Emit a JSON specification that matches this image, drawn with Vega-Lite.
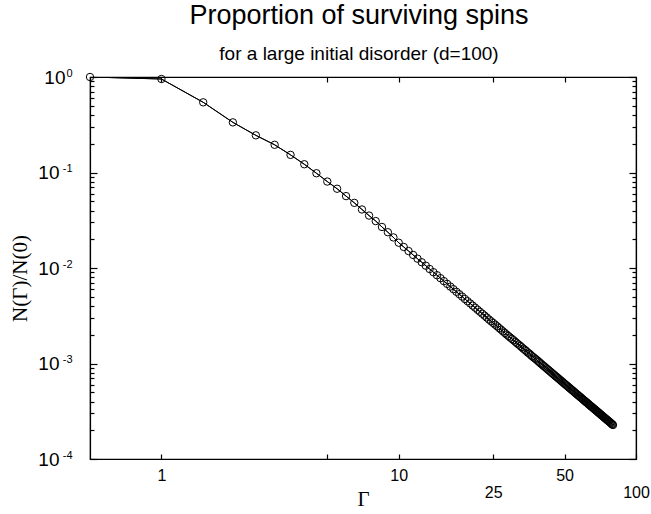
{
  "$schema": "https://vega.github.io/schema/vega-lite/v6.json",
  "width": 546,
  "height": 382,
  "autosize": {"type": "none"},
  "padding": {"left": 90, "top": 77, "right": 15, "bottom": 55},
  "background": "white",
  "title": {
    "text": "Proportion of surviving spins",
    "subtitle": "for a large initial disorder (d=100)",
    "font": "Liberation Sans",
    "fontSize": 27,
    "fontWeight": "normal",
    "color": "black",
    "subtitleFont": "Liberation Sans",
    "subtitleFontSize": 19,
    "subtitleColor": "black",
    "subtitlePadding": 15,
    "anchor": "middle",
    "offset": 2,
    "dx": -4
  },
  "config": {
    "view": {"stroke": "black", "strokeWidth": 1.2},
    "axis": {
      "grid": false,
      "domainColor": "black",
      "domainWidth": 1.2,
      "tickColor": "black",
      "tickWidth": 1.2,
      "labelColor": "black",
      "labelFont": "Liberation Sans",
      "titleColor": "black",
      "labelOverlap": false,
      "labelFlush": false,
      "labelBound": false
    }
  },
  "data": {
    "values": [
      {"G": 0.5, "N": 1},
      {"G": 1, "N": 0.953},
      {"G": 1.5, "N": 0.543},
      {"G": 2, "N": 0.335},
      {"G": 2.5, "N": 0.245},
      {"G": 3, "N": 0.195},
      {"G": 3.5, "N": 0.153},
      {"G": 4, "N": 0.122},
      {"G": 4.5, "N": 0.0982},
      {"G": 5, "N": 0.0804},
      {"G": 5.5, "N": 0.0676},
      {"G": 6, "N": 0.0566},
      {"G": 6.5, "N": 0.0481},
      {"G": 7, "N": 0.041},
      {"G": 7.5, "N": 0.0354},
      {"G": 8, "N": 0.031},
      {"G": 8.5, "N": 0.0269},
      {"G": 9, "N": 0.0237},
      {"G": 9.5, "N": 0.0209},
      {"G": 10, "N": 0.0184},
      {"G": 10.5, "N": 0.0166},
      {"G": 11, "N": 0.01505},
      {"G": 11.5, "N": 0.0137},
      {"G": 12, "N": 0.01252},
      {"G": 12.5, "N": 0.01149},
      {"G": 13, "N": 0.01057},
      {"G": 13.5, "N": 0.00976},
      {"G": 14, "N": 0.00904},
      {"G": 14.5, "N": 0.0084},
      {"G": 15, "N": 0.00782},
      {"G": 15.5, "N": 0.00729},
      {"G": 16, "N": 0.00682},
      {"G": 16.5, "N": 0.00639},
      {"G": 17, "N": 0.006},
      {"G": 17.5, "N": 0.00564},
      {"G": 18, "N": 0.00532},
      {"G": 18.5, "N": 0.00502},
      {"G": 19, "N": 0.00474},
      {"G": 19.5, "N": 0.00449},
      {"G": 20, "N": 0.00426},
      {"G": 20.5, "N": 0.00404},
      {"G": 21, "N": 0.00384},
      {"G": 21.5, "N": 0.00365},
      {"G": 22, "N": 0.00348},
      {"G": 22.5, "N": 0.00332},
      {"G": 23, "N": 0.00317},
      {"G": 23.5, "N": 0.00303},
      {"G": 24, "N": 0.00289},
      {"G": 24.5, "N": 0.00277},
      {"G": 25, "N": 0.00266},
      {"G": 25.5, "N": 0.00255},
      {"G": 26, "N": 0.00245},
      {"G": 26.5, "N": 0.00235},
      {"G": 27, "N": 0.00226},
      {"G": 27.5, "N": 0.00217},
      {"G": 28, "N": 0.00209},
      {"G": 28.5, "N": 0.00201},
      {"G": 29, "N": 0.00194},
      {"G": 29.5, "N": 0.00187},
      {"G": 30, "N": 0.00181},
      {"G": 30.5, "N": 0.00175},
      {"G": 31, "N": 0.00169},
      {"G": 31.5, "N": 0.00163},
      {"G": 32, "N": 0.00158},
      {"G": 32.5, "N": 0.00153},
      {"G": 33, "N": 0.00148},
      {"G": 33.5, "N": 0.00143},
      {"G": 34, "N": 0.00139},
      {"G": 34.5, "N": 0.00135},
      {"G": 35, "N": 0.0013},
      {"G": 35.5, "N": 0.00127},
      {"G": 36, "N": 0.00123},
      {"G": 36.5, "N": 0.00119},
      {"G": 37, "N": 0.00116},
      {"G": 37.5, "N": 0.00113},
      {"G": 38, "N": 0.0011},
      {"G": 38.5, "N": 0.00107},
      {"G": 39, "N": 0.00104},
      {"G": 39.5, "N": 0.00101},
      {"G": 40, "N": 0.000984},
      {"G": 40.5, "N": 0.000958},
      {"G": 41, "N": 0.000934},
      {"G": 41.5, "N": 0.00091},
      {"G": 42, "N": 0.000887},
      {"G": 42.5, "N": 0.000866},
      {"G": 43, "N": 0.000844},
      {"G": 43.5, "N": 0.000824},
      {"G": 44, "N": 0.000804},
      {"G": 44.5, "N": 0.000785},
      {"G": 45, "N": 0.000767},
      {"G": 45.5, "N": 0.000749},
      {"G": 46, "N": 0.000732},
      {"G": 46.5, "N": 0.000716},
      {"G": 47, "N": 0.0007},
      {"G": 47.5, "N": 0.000684},
      {"G": 48, "N": 0.000669},
      {"G": 48.5, "N": 0.000655},
      {"G": 49, "N": 0.000641},
      {"G": 49.5, "N": 0.000627},
      {"G": 50, "N": 0.000614},
      {"G": 50.5, "N": 0.000601},
      {"G": 51, "N": 0.000589},
      {"G": 51.5, "N": 0.000577},
      {"G": 52, "N": 0.000565},
      {"G": 52.5, "N": 0.000554},
      {"G": 53, "N": 0.000543},
      {"G": 53.5, "N": 0.000532},
      {"G": 54, "N": 0.000522},
      {"G": 54.5, "N": 0.000512},
      {"G": 55, "N": 0.000502},
      {"G": 55.5, "N": 0.000492},
      {"G": 56, "N": 0.000483},
      {"G": 56.5, "N": 0.000474},
      {"G": 57, "N": 0.000465},
      {"G": 57.5, "N": 0.000457},
      {"G": 58, "N": 0.000449},
      {"G": 58.5, "N": 0.000441},
      {"G": 59, "N": 0.000433},
      {"G": 59.5, "N": 0.000425},
      {"G": 60, "N": 0.000418},
      {"G": 60.5, "N": 0.00041},
      {"G": 61, "N": 0.000403},
      {"G": 61.5, "N": 0.000396},
      {"G": 62, "N": 0.00039},
      {"G": 62.5, "N": 0.000383},
      {"G": 63, "N": 0.000377},
      {"G": 63.5, "N": 0.00037},
      {"G": 64, "N": 0.000364},
      {"G": 64.5, "N": 0.000358},
      {"G": 65, "N": 0.000353},
      {"G": 65.5, "N": 0.000347},
      {"G": 66, "N": 0.000342},
      {"G": 66.5, "N": 0.000336},
      {"G": 67, "N": 0.000331},
      {"G": 67.5, "N": 0.000326},
      {"G": 68, "N": 0.000321},
      {"G": 68.5, "N": 0.000316},
      {"G": 69, "N": 0.000311},
      {"G": 69.5, "N": 0.000306},
      {"G": 70, "N": 0.000302},
      {"G": 70.5, "N": 0.000297},
      {"G": 71, "N": 0.000293},
      {"G": 71.5, "N": 0.000288},
      {"G": 72, "N": 0.000284},
      {"G": 72.5, "N": 0.00028},
      {"G": 73, "N": 0.000276},
      {"G": 73.5, "N": 0.000272},
      {"G": 74, "N": 0.000268},
      {"G": 74.5, "N": 0.000264},
      {"G": 75, "N": 0.000261},
      {"G": 75.5, "N": 0.000257},
      {"G": 76, "N": 0.000253},
      {"G": 76.5, "N": 0.00025},
      {"G": 77, "N": 0.000247},
      {"G": 77.5, "N": 0.000243},
      {"G": 78, "N": 0.00024},
      {"G": 78.5, "N": 0.000237},
      {"G": 79, "N": 0.000233},
      {"G": 79.5, "N": 0.00023},
      {"G": 80, "N": 0.000227}
    ]
  },
  "layer": [
    {
      "mark": {"type": "line", "color": "black", "strokeWidth": 1, "clip": true},
      "encoding": {
        "x": {
          "field": "G",
          "type": "quantitative",
          "scale": {"type": "log", "domain": [0.5, 100], "nice": false},
          "axis": {
            "orient": "bottom",
            "values": [1, 5, 10, 25, 50, 100],
            "tickSize": -5,
            "labelPadding": 13,
            "labelFontSize": 16,
            "labelBaseline": "top",
            "labelLineHeight": 17,
            "labelExpr": "datum.value == 5 ? '' : (datum.value == 25 || datum.value == 100) ? ['', '' + datum.value] : '' + datum.value",
            "title": "Γ",
            "titleFont": "Liberation Serif",
            "titleFontSize": 21,
            "titleFontWeight": "normal",
            "titleBaseline": "middle",
            "titleY": 40
          }
        },
        "y": {
          "field": "N",
          "type": "quantitative",
          "scale": {"type": "log", "domain": [0.0001, 1], "nice": false},
          "axis": {
            "orient": "left",
            "values": [0.0001, 0.0002, 0.0003, 0.0004, 0.0005, 0.0006, 0.0007, 0.0008, 0.0009, 0.001, 0.002, 0.003, 0.004, 0.005, 0.006, 0.007, 0.008, 0.009, 0.01, 0.02, 0.03, 0.04, 0.05, 0.06, 0.07, 0.08, 0.09, 0.1, 0.2, 0.3, 0.4, 0.5, 0.6, 0.7, 0.8, 0.9, 1],
            "tickSize": {"condition": {"test": "abs(log(datum.value)/LN10 - round(log(datum.value)/LN10)) < 0.01", "value": -7}, "value": -4},
            "labelPadding": 25,
            "labelFontSize": 11,
            "labelAlign": "right",
            "labelOffset": -4,
            "labelExpr": "abs(log(datum.value)/LN10 - round(log(datum.value)/LN10)) > 0.01 ? '' : '' + round(log(datum.value)/LN10)",
            "title": "N(Γ)/N(0)",
            "titleFont": "Liberation Serif",
            "titleFontSize": 21,
            "titleFontWeight": "normal",
            "titleAngle": 270,
            "titleAlign": "center",
            "titleBaseline": "middle",
            "titleX": -70,
            "titleY": 201
          }
        }
      }
    },
    {
      "mark": {"type": "point", "shape": "circle", "filled": false, "stroke": "black", "strokeWidth": 1, "size": 55, "opacity": 1},
      "encoding": {
        "x": {
          "field": "G",
          "type": "quantitative",
          "scale": {"type": "log", "domain": [0.5, 100], "nice": false},
          "axis": {
            "orient": "top",
            "values": [1, 5, 10, 25, 50],
            "tickSize": -5,
            "labels": false,
            "title": null
          }
        },
        "y": {
          "field": "N",
          "type": "quantitative",
          "scale": {"type": "log", "domain": [0.0001, 1], "nice": false},
          "axis": {
            "orient": "right",
            "values": [0.0001, 0.0002, 0.0003, 0.0004, 0.0005, 0.0006, 0.0007, 0.0008, 0.0009, 0.001, 0.002, 0.003, 0.004, 0.005, 0.006, 0.007, 0.008, 0.009, 0.01, 0.02, 0.03, 0.04, 0.05, 0.06, 0.07, 0.08, 0.09, 0.1, 0.2, 0.3, 0.4, 0.5, 0.6, 0.7, 0.8, 0.9, 1],
            "tickSize": {"condition": {"test": "abs(log(datum.value)/LN10 - round(log(datum.value)/LN10)) < 0.01", "value": -7}, "value": -4},
            "labels": false,
            "title": null
          }
        }
      }
    },
    {
      "mark": {"type": "line", "color": "black", "strokeWidth": 1, "clip": true},
      "encoding": {
        "x": {
          "field": "G",
          "type": "quantitative",
          "scale": {"type": "log", "domain": [0.5, 100], "nice": false},
          "axis": null
        },
        "y": {
          "field": "N",
          "type": "quantitative",
          "scale": {"type": "log", "domain": [0.0001, 1], "nice": false},
          "axis": {
            "orient": "left",
            "values": [0.0001, 0.001, 0.01, 0.1, 1],
            "ticks": false,
            "domain": false,
            "labelFontSize": 19,
            "labelAlign": "right",
            "labelPadding": {"condition": {"test": "datum.value == 1", "value": 25}, "value": 31},
            "labelExpr": "'10'",
            "title": null
          }
        }
      }
    }
  ],
  "resolve": {"axis": {"x": "independent", "y": "independent"}}
}
